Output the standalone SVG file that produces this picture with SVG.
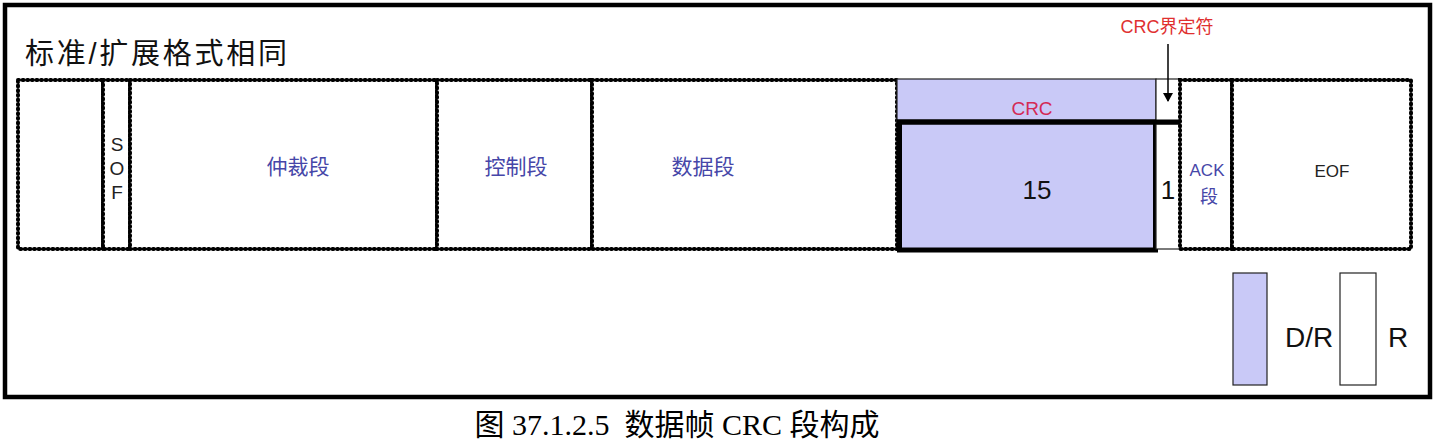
<svg xmlns="http://www.w3.org/2000/svg" width="1437" height="446" viewBox="0 0 1437 446">
<style>
.dot{fill:#fff;stroke:#000;stroke-width:4;stroke-dasharray:1 3.6;stroke-linecap:round}
.thin{stroke:#222;stroke-width:1.2}
.lav{fill:#c9c9f7}
.s{font-family:"Liberation Sans","Noto Sans CJK SC",sans-serif}
.blue{fill:#4646a8}
.mid{text-anchor:middle}
</style>
<defs>
<marker id="ah" markerWidth="10" markerHeight="10" refX="8" refY="5" orient="auto" markerUnits="userSpaceOnUse">
<path d="M0,0 L9,5 L0,10 Z" fill="#000"/>
</marker>
</defs>
<rect x="0" y="0" width="1437" height="446" fill="#fff"/>
<rect id="frame" x="5" y="5" width="1425" height="392" fill="#fff" stroke="#000" stroke-width="4.5"/>
<text class="s" x="25" y="64" font-size="29" textLength="262" lengthAdjust="spacing" fill="#111">标准/扩展格式相同</text>

<g id="blank"><rect class="dot" x="18" y="80" width="85" height="169"/></g>
<g id="sof"><rect class="dot" x="103" y="80" width="27" height="169"/>
<text class="s mid" x="117" y="151" font-size="19" fill="#222">S</text>
<text class="s mid" x="117" y="175" font-size="19" fill="#222">O</text>
<text class="s mid" x="117" y="199" font-size="19" fill="#222">F</text></g>
<g id="arb"><rect class="dot" x="130" y="80" width="307" height="169"/>
<text class="s mid blue" x="298" y="174" font-size="21">仲裁段</text></g>
<g id="ctrl"><rect class="dot" x="437" y="80" width="155" height="169"/>
<text class="s mid blue" x="516" y="174" font-size="21">控制段</text></g>
<g id="data"><rect class="dot" x="592" y="80" width="305" height="169"/>
<text class="s mid blue" x="703" y="174" font-size="21">数据段</text></g>

<g id="crc">
<rect class="lav thin" x="897" y="79" width="259" height="43"/>
<text class="s mid" x="1032" y="115" font-size="19" fill="#d42a55">CRC</text>
<rect class="lav" x="899.5" y="122" width="256" height="128" stroke="#000" stroke-width="5"/>
<text class="s mid" x="1037" y="199" font-size="26" fill="#111">15</text>
</g>
<g id="delim">
<rect class="thin" x="1156" y="79" width="24" height="43" fill="#fff"/>
<rect class="thin" x="1156" y="124" width="24" height="125" fill="#fff"/>
<text class="s mid" x="1168" y="199" font-size="26" fill="#111">1</text>
</g>
<line x1="897" y1="122" x2="1183" y2="122" stroke="#000" stroke-width="5"/>
<g id="ack"><rect class="dot" x="1180" y="80" width="52" height="169"/>
<text class="s mid blue" x="1207" y="176" font-size="17">ACK</text>
<text class="s mid blue" x="1209" y="203" font-size="18">段</text></g>
<g id="eof"><rect class="dot" x="1232" y="80" width="179" height="169"/>
<text class="s mid" x="1332" y="177" font-size="17" fill="#222">EOF</text></g>

<g id="delimlabel">
<text class="s mid" x="1167" y="33" font-size="18" fill="#e03030">CRC界定符</text>
</g>
<g id="connectors">
<line x1="1168" y1="44" x2="1168" y2="101" stroke="#000" stroke-width="1.5" marker-end="url(#ah)"/>
</g>

<g id="legend-dr"><rect class="lav thin" x="1233" y="273" width="34" height="112"/>
<text class="s" x="1285" y="347" font-size="28" fill="#111">D/R</text></g>
<g id="legend-r"><rect class="thin" x="1340" y="273" width="36" height="112" fill="#fff"/>
<text class="s" x="1388" y="347" font-size="28" fill="#111">R</text></g>

<text x="677" y="435" text-anchor="middle" font-size="30" font-family="Liberation Serif,Noto Sans CJK SC,serif" fill="#000" xml:space="preserve">图 37.1.2.5  数据帧 CRC 段构成</text>
</svg>
